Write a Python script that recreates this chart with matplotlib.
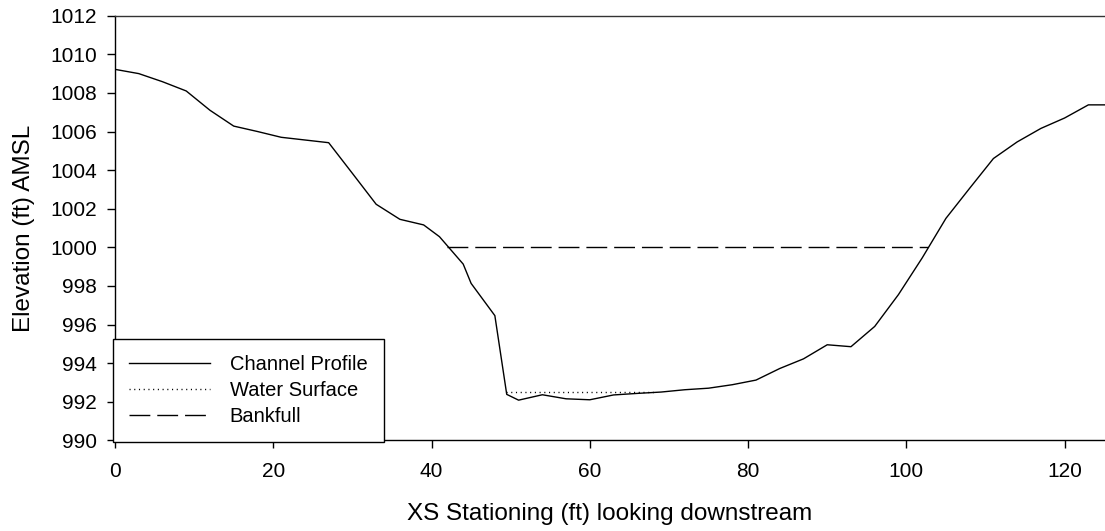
import matplotlib
matplotlib.use("Agg")
import matplotlib.pyplot as plt

plt.rcParams['font.family'] = ['Liberation Sans', 'DejaVu Sans']

# Channel profile (station ft, elevation ft)
station = [0, 3, 6, 9, 12, 15, 18, 21, 24, 27, 30, 33, 36, 39, 41, 44, 45,
           48, 49.5, 51, 54, 57, 60, 63, 66, 69, 72, 75, 78, 81, 84, 87, 90,
           93, 96, 99, 102, 105, 108, 111, 114, 117, 120, 123, 126]
elevation = [1009.22, 1009.0, 1008.58, 1008.1, 1007.1, 1006.28, 1006.0,
             1005.7, 1005.56, 1005.42, 1003.83, 1002.23, 1001.45, 1001.16,
             1000.55, 999.13, 998.13, 996.46, 992.38, 992.08, 992.36, 992.15,
             992.1, 992.35, 992.43, 992.5, 992.62, 992.7, 992.88, 993.12,
             993.72, 994.22, 994.95, 994.85, 995.9, 997.55, 999.45, 1001.5,
             1003.06, 1004.6, 1005.46, 1006.16, 1006.7, 1007.38, 1007.38]

# Water surface
ws_station = [49.4, 68.5]
ws_elev = [992.48, 992.48]

# Bankfull
bf_station = [41.9, 102.7]
bf_elev = [1000.0, 1000.0]

xticks = [0, 20, 40, 60, 80, 100, 120]
yticks = list(range(990, 1013, 2))

fig = plt.figure(figsize=(11.05, 5.31), dpi=100)
ax = fig.add_axes([115 / 1105, (531 - 440.3) / 531, 990 / 1105, 424.6 / 531])

ax.plot(station, elevation, color='black', lw=1.0, label='Channel Profile')
ax.plot(ws_station, ws_elev, color='black', lw=1.0, linestyle=(0, (0.8, 2.6)),
        label='Water Surface')
ax.plot(bf_station, bf_elev, color='black', lw=1.0, linestyle=(0, (15, 5)),
        label='Bankfull')

ax.set_xlim(0, 125.1)
ax.set_ylim(990, 1012)
ax.set_xticks(xticks)
ax.set_yticks(yticks)
ax.tick_params(axis='both', direction='out', length=6, width=1, labelsize=15,
               colors='black')
ax.tick_params(axis='y', pad=7)
ax.tick_params(axis='x', pad=9.5)

ax.spines['right'].set_visible(False)
for s in ['left', 'bottom', 'top']:
    ax.spines[s].set_linewidth(1.0)
    ax.spines[s].set_color('black')
ax.spines['top'].set_color('#333333')

ax.set_xlabel('XS Stationing (ft) looking downstream', fontsize=17.5, labelpad=16)
ax.set_ylabel('Elevation (ft) AMSL', fontsize=17.5, labelpad=11)

leg = ax.legend(loc='lower left', bbox_to_anchor=(-0.002, -0.004),
                borderaxespad=0, frameon=True, fancybox=False, shadow=False,
                fontsize=14.5, handlelength=4.0, handletextpad=1.0,
                borderpad=0.8, labelspacing=0.35)
leg.get_frame().set_edgecolor('black')
leg.get_frame().set_linewidth(1.0)
leg.get_frame().set_alpha(1.0)

fig.savefig('out.png', dpi=100)
